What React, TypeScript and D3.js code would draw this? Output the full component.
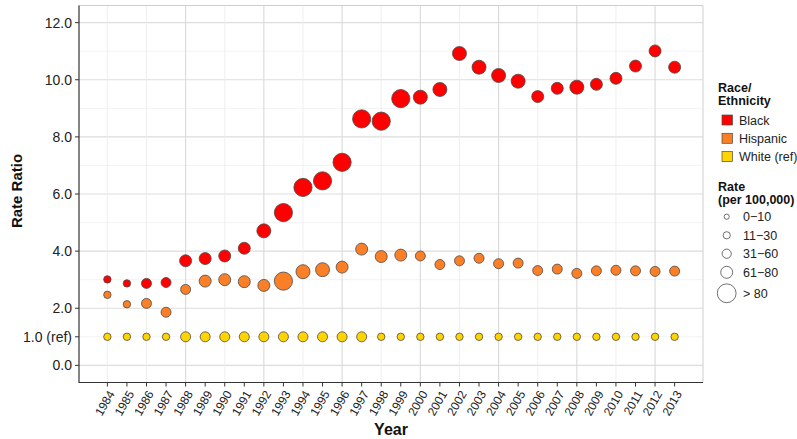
import React from 'react';
import * as d3 from 'd3';

// Rate ratio by year
const years = [1984, 1985, 1986, 1987, 1988, 1989, 1990, 1991, 1992, 1993, 1994, 1995, 1996, 1997, 1998,
  1999, 2000, 2001, 2002, 2003, 2004, 2005, 2006, 2007, 2008, 2009, 2010, 2011, 2012, 2013];

const blackRatio = [3.01, 2.87, 2.87, 2.90, 3.66, 3.74, 3.83, 4.10, 4.71, 5.35, 6.23, 6.46, 7.11, 8.63, 8.55,
  9.34, 9.39, 9.66, 10.92, 10.44, 10.15, 9.95, 9.41, 9.70, 9.74, 9.84, 10.05, 10.48, 11.01, 10.44];
const hispanicRatio = [2.47, 2.14, 2.17, 1.86, 2.66, 2.95, 3.00, 2.93, 2.80, 2.95, 3.28, 3.35, 3.44, 4.07, 3.81,
  3.86, 3.83, 3.53, 3.66, 3.75, 3.56, 3.58, 3.32, 3.37, 3.22, 3.31, 3.33, 3.31, 3.29, 3.30];
const whiteRatio = [1, 1, 1, 1, 1, 1, 1, 1, 1, 1, 1, 1, 1, 1, 1,
  1, 1, 1, 1, 1, 1, 1, 1, 1, 1, 1, 1, 1, 1, 1];

// rate category index per point (0 = 0-10 ... 4 = > 80)
const blackRate = [0, 0, 1, 1, 2, 2, 2, 2, 3, 4, 4, 4, 4, 4, 4, 4, 3, 3, 3, 3, 3, 3, 2, 2, 3, 2, 2, 2, 2, 2];
const hispanicRate = [0, 0, 1, 1, 1, 2, 2, 2, 2, 4, 3, 3, 2, 2, 2, 2, 1, 1, 1, 1, 1, 1, 1, 1, 1, 1, 1, 1, 1, 1];
const whiteRate = [0, 0, 0, 0, 1, 1, 1, 1, 1, 1, 1, 1, 1, 1, 0, 0, 0, 0, 0, 0, 0, 0, 0, 0, 0, 0, 0, 0, 0, 0];

const groups = ['Black', 'Hispanic', 'White (ref)'];
const rateLabels = ['0\u221210', '11\u221230', '31\u221260', '61\u221280', '> 80'];
const yTicks = [0, 1, 2, 4, 6, 8, 10, 12];

const W = 797;
const H = 439;
const font = 'Liberation Sans, Arial, Helvetica, sans-serif';

const x = d3.scaleLinear().domain([1982.55, 2014.45]).range([79, 703]);
const y = d3.scaleLinear().domain([-0.6, 12.6]).range([382.5, 5.5]);
const color = d3.scaleOrdinal<string, string>().domain(groups).range(['#ff0000', '#fb7f26', '#ffd400']);
const radius = d3.scaleOrdinal<number, number>().domain([0, 1, 2, 3, 4]).range([3.7, 5.0, 6.0, 7.0, 9.1]);
const legendRadius = d3.scaleOrdinal<number, number>().domain([0, 1, 2, 3, 4]).range([2.6, 3.6, 4.6, 6.0, 9.4]);

const series = [
  { name: 'White (ref)', values: whiteRatio, rates: whiteRate },
  { name: 'Hispanic', values: hispanicRatio, rates: hispanicRate },
  { name: 'Black', values: blackRatio, rates: blackRate },
];

export default function App() {
  const [x0, x1] = x.range();
  const [y0, y1] = y.range();
  const majorY = d3.range(0, 13, 2);
  const minorY = d3.range(1, 12, 2);
  const gridX = d3.range(1984, 2013, 2);

  return (
    <svg width={W} height={H} style={{ position: 'absolute', left: 0, top: 0, background: '#fff' }} fontFamily={font}>
      {/* grid */}
      {minorY.map(v => (
        <line key={'my' + v} x1={x0} x2={x1} y1={y(v)} y2={y(v)} stroke="#eeeeee" strokeWidth={0.7} />
      ))}
      {majorY.map(v => (
        <line key={'My' + v} x1={x0} x2={x1} y1={y(v)} y2={y(v)} stroke="#dddddd" strokeWidth={1.1} />
      ))}
      {gridX.map(v => (
        <line key={'gx' + v} x1={x(v)} x2={x(v)} y1={y0} y2={y1}
          stroke={v >= 1988 && (v - 1988) % 4 === 0 ? '#d9d9d9' : '#ebebeb'}
          strokeWidth={v >= 1988 && (v - 1988) % 4 === 0 ? 1.1 : 0.8} />
      ))}
      {/* panel border */}
      <line x1={x0} x2={x1} y1={y1} y2={y1} stroke="#cfcfcf" strokeWidth={1} />
      <line x1={x1} x2={x1} y1={y1} y2={y0} stroke="#cfcfcf" strokeWidth={1} />

      {/* points */}
      {series.map(s => (
        <g key={s.name}>
          {s.values.map((v, i) => (
            <circle key={i} cx={x(years[i])} cy={y(v)} r={radius(s.rates[i])}
              fill={color(s.name)} stroke="#4a4a4a" strokeWidth={0.8} />
          ))}
        </g>
      ))}

      {/* axes */}
      <line x1={x0} x2={x0} y1={y1} y2={y0 + 0.5} stroke="#333" strokeWidth={1.2} />
      <line x1={x0} x2={x1} y1={y0} y2={y0} stroke="#333" strokeWidth={1.2} />
      {yTicks.map(v => (
        <g key={'yt' + v}>
          <line x1={x0 - 4} x2={x0} y1={y(v)} y2={y(v)} stroke="#333" strokeWidth={1} />
          <text x={x0 - 7} y={y(v)} dy="0.36em" textAnchor="end" fontSize={14} fill="#222">
            {v === 1 ? '1.0 (ref)' : d3.format('.1f')(v)}
          </text>
        </g>
      ))}
      {years.map(v => (
        <g key={'xt' + v}>
          <line x1={x(v)} x2={x(v)} y1={y0} y2={y0 + 4} stroke="#333" strokeWidth={1} />
          <text transform={`translate(${x(v) + 4},${y0 + 9}) rotate(-60)`} textAnchor="end" dy="0.35em"
            fontSize={12} fill="#222">{v}</text>
        </g>
      ))}
      <text transform={`translate(22,${(y0 + y1) / 2 - 3}) rotate(-90)`} textAnchor="middle" fontSize={15}
        fontWeight="bold" fill="#111">Rate Ratio</text>
      <text x={(x0 + x1) / 2} y={435} textAnchor="middle" fontSize={16} fontWeight="bold" fill="#111">Year</text>

      {/* legend: race / ethnicity */}
      <text x={718} y={92} fontSize={12.5} fontWeight="bold" fill="#111">Race/</text>
      <text x={718} y={105} fontSize={12.5} fontWeight="bold" fill="#111">Ethnicity</text>
      {groups.map((g, i) => (
        <g key={g} transform={`translate(722,${120 + i * 18.3})`}>
          <rect x={0} y={-5} width={10.5} height={10} fill={color(g)} stroke="#4a4a4a" strokeWidth={0.7} />
          <text x={17} y={0} dy="0.36em" fontSize={12.5} fill="#222">{g}</text>
        </g>
      ))}

      {/* legend: rate */}
      <text x={718} y={191} fontSize={12.5} fontWeight="bold" fill="#111">Rate</text>
      <text x={718} y={203.5} fontSize={12.5} fontWeight="bold" fill="#111">(per 100,000)</text>
      {rateLabels.map((lab, i) => {
        const cy = [216.7, 235.3, 253.7, 272.3, 293.3][i];
        return (
          <g key={lab}>
            <circle cx={726.7} cy={cy} r={legendRadius(i)} fill="#fff" stroke="#333" strokeWidth={0.7} />
            <text x={743} y={cy} dy="0.36em" fontSize={12.5} fill="#222">{lab}</text>
          </g>
        );
      })}
    </svg>
  );
}
